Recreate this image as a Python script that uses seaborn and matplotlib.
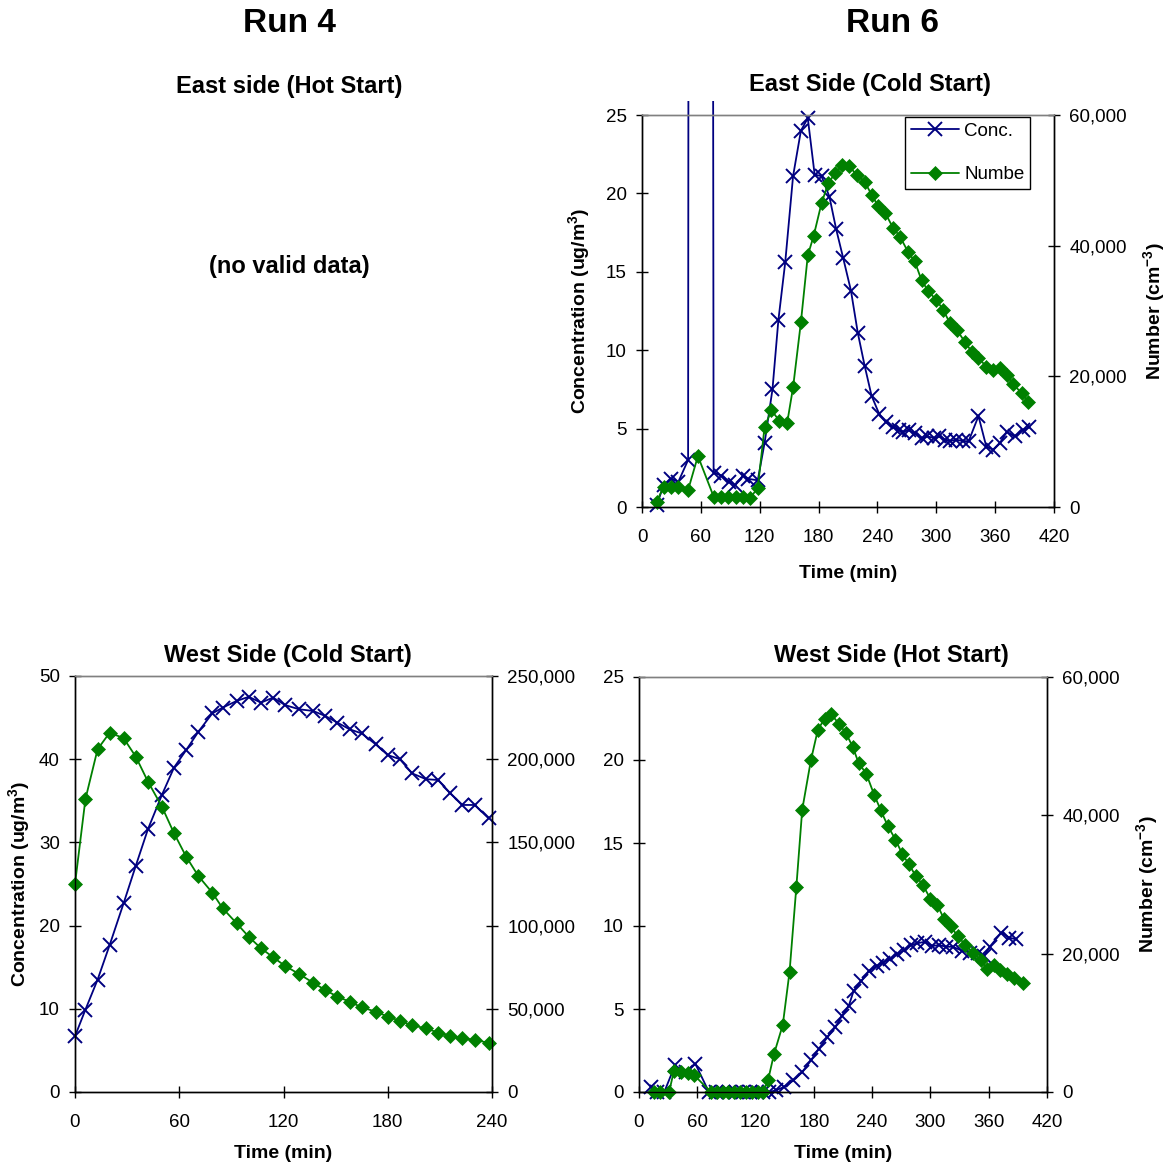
import numpy as np
import matplotlib
matplotlib.use("Agg")
import matplotlib.pyplot as plt
import seaborn as sns
from matplotlib.patches import Rectangle
from matplotlib.ticker import FuncFormatter

# ---------------- data ----------------
# Run 6, East Side (Cold Start)
t_ec_conc = [15, 22, 30, 37, 47, 57, 73, 81, 89, 95, 103, 108, 118, 125, 133, 139, 146, 154,
             162, 169, 176, 183, 191, 198, 205, 213, 220, 227, 234, 242, 249, 256, 262, 266,
             272, 278, 285, 291, 298, 303, 309, 314, 320, 327, 333, 343, 351, 358, 365, 372,
             380, 388, 395]
conc_ec = [0.1, 1.4, 1.8, 1.6, 3.0, 800, 2.2, 2.0, 1.6, 1.4, 2.0, 1.8, 1.7, 4.1, 7.5, 11.9,
           15.6, 21.1, 24.0, 24.8, 21.2, 21.1, 19.8, 17.7, 15.9, 13.8, 11.1, 9.0, 7.1, 5.9,
           5.4, 5.1, 4.9, 4.8, 4.9, 4.7, 4.4, 4.5, 4.4, 4.5, 4.3, 4.2, 4.3, 4.2, 4.2, 5.8,
           3.85, 3.65, 4.1, 4.8, 4.5, 4.9, 5.1]
t_ec_num = [15, 22, 30, 37, 47, 57, 73, 81, 88, 96, 103, 110, 118, 125, 132, 140, 148, 154,
            162, 169, 175, 183, 190, 197, 204, 211, 219, 227, 234, 241, 248, 256, 263, 271,
            278, 285, 292, 300, 307, 314, 321, 329, 336, 343, 351, 358, 365, 372, 378, 387, 394]
num_ec = [800, 3100, 3100, 3000, 2600, 7800, 1600, 1600, 1500, 1500, 1500, 1350, 2900, 12300,
          14800, 13200, 12900, 18300, 28300, 38500, 41500, 46500, 49600, 51100, 52300, 52200,
          50800, 49800, 47800, 46000, 45000, 42700, 41400, 39100, 37600, 34700, 33000, 31700,
          30200, 28100, 27100, 25300, 23800, 22800, 21500, 21000, 21200, 20200, 18900, 17400,
          16100]

# Run 4, West Side (Cold Start)
t_wc = [0, 6, 13, 20, 28, 35, 42, 50, 57, 64, 71, 79, 85, 93, 100, 107, 114, 121, 129, 137,
        144, 151, 158, 165, 173, 180, 187, 194, 202, 209, 216, 223, 230, 238]
conc_wc = [6.7, 9.9, 13.5, 17.7, 22.7, 27.2, 31.6, 35.7, 39.0, 41.1, 43.3, 45.5, 46.2, 47.0,
           47.5, 46.8, 47.4, 46.5, 46.0, 45.8, 45.2, 44.4, 43.6, 43.1, 41.8, 40.5, 40.0, 38.3,
           37.6, 37.5, 35.9, 34.5, 34.5, 32.9]
num_wc = [125000, 176000, 206000, 216000, 212600, 201500, 186500, 171500, 155500, 141400,
          129800, 119800, 110400, 101400, 93300, 86400, 81000, 75700, 70900, 65700, 61300,
          57300, 54300, 50900, 48300, 45300, 42800, 40000, 38300, 35600, 33700, 32300, 31300,
          29600]

# Run 6, West Side (Hot Start)
t_wh_conc = [12, 19, 26, 37, 48, 58, 72, 79, 86, 93, 100, 107, 114, 121, 128, 134, 141, 149,
             159, 168, 177, 185, 194, 202, 209, 216, 221, 229, 237, 245, 251, 258, 266, 273,
             280, 286, 294, 302, 309, 316, 323, 333, 341, 349, 355, 361, 373, 381, 388]
conc_wh = [0.3, 0.0, 0.0, 1.6, 1.2, 1.7, 0.0, 0.0, 0.0, 0.0, 0.0, 0.0, 0.0, 0.0, 0.0, 0.0,
           0.1, 0.3, 0.7, 1.2, 1.9, 2.6, 3.3, 3.9, 4.6, 5.2, 6.1, 6.7, 7.3, 7.6, 7.8, 8.0,
           8.3, 8.55, 8.85, 8.95, 9.05, 8.8, 8.85, 8.75, 8.75, 8.5, 8.4, 8.35, 8.2, 8.75,
           9.6, 9.3, 9.2]
t_wh_num = [15, 22, 31, 36, 43, 50, 57, 74, 80, 86, 92, 98, 104, 110, 116, 122, 128, 133, 139,
            148, 155, 162, 168, 177, 184, 191, 198, 206, 213, 220, 226, 234, 242, 249, 256,
            264, 271, 278, 285, 292, 300, 307, 314, 321, 328, 336, 344, 352, 358, 365, 372,
            379, 386, 395]
num_wh = [0, 0, 0, 3100, 2900, 2800, 2400, 0, 0, 0, 0, 0, 0, 0, 0, 0, 0, 1800, 5500, 9700,
          17400, 29700, 40800, 48000, 52300, 54000, 54600, 53200, 51900, 49900, 47600, 46000,
          43000, 40700, 38500, 36500, 34400, 32900, 31200, 30000, 27900, 27100, 25000, 24000,
          22500, 21300, 20100, 19100, 17800, 18300, 17700, 17000, 16500, 15800]

legend_labels = ["Conc.", "Numbe"]

# ---------------- style ----------------
sns.set_theme(style="white")
plt.rcParams["font.family"] = ["Liberation Sans", "DejaVu Sans"]
plt.rcParams["mathtext.fontset"] = "custom"
plt.rcParams["mathtext.rm"] = "Liberation Sans"
plt.rcParams["mathtext.bf"] = "Liberation Sans:bold"
plt.rcParams["text.color"] = "black"
plt.rcParams["axes.labelcolor"] = "black"
plt.rcParams["xtick.color"] = "black"
plt.rcParams["ytick.color"] = "black"

BLUE = "#000080"
GREEN = "#008000"
FS_TICK = 13.5
FS_LAB = 14
FS_SUB = 17
FS_RUN = 24

W, H = 1170, 1168
fig = plt.figure(figsize=(W / 100, H / 100), dpi=100)


def px_axes(l, t, r, b):
    return fig.add_axes([l / W, 1 - b / H, (r - l) / W, (b - t) / H])


def draw(ax, ax2, tc, c, tn, n):
    sns.lineplot(x=tc, y=c, ax=ax, color=BLUE, marker="x", markersize=10,
                 markeredgewidth=1.4, markeredgecolor=BLUE, linewidth=1.3,
                 estimator=None, sort=False, legend=False)
    sns.lineplot(x=tn, y=n, ax=ax2, color=GREEN, marker="D", markersize=7,
                 markeredgewidth=0.5, markeredgecolor=GREEN, markerfacecolor=GREEN,
                 linewidth=1.3, estimator=None, sort=False, legend=False)
    for a in (ax, ax2):
        for ln in a.lines:
            clip = Rectangle((-0.03, -0.03), 1.06, 1.065, transform=ax.transAxes)
            ln.set_clip_path(clip)


def style(ax, ax2, xmax, ymax, ystep, y2max, y2step):
    ax.set_xlim(0, xmax)
    ax.set_ylim(0, ymax)
    ax2.set_ylim(0, y2max)
    ax.set_xticks(np.arange(0, xmax + 1, 60))
    ax.set_yticks(np.arange(0, ymax + 0.01, ystep))
    ax2.set_yticks(np.arange(0, y2max + 1, y2step))
    ax2.yaxis.set_major_formatter(FuncFormatter(lambda v, p: f"{int(round(v)):,}"))
    ax.yaxis.set_major_formatter(FuncFormatter(lambda v, p: f"{int(round(v))}"))
    for a in (ax, ax2):
        for s in ["left", "right", "bottom"]:
            a.spines[s].set_color("black")
            a.spines[s].set_linewidth(1.0)
        a.spines["top"].set_color("#808080")
        a.spines["top"].set_linewidth(1.0)
        a.grid(False)
    ax.tick_params(axis="both", direction="inout", length=8, width=1, color="black",
                   labelsize=FS_TICK, labelcolor="black", bottom=True, left=True)
    ax.tick_params(axis="x", pad=12)
    ax.tick_params(axis="y", pad=7)
    ax2.tick_params(axis="y", direction="inout", length=8, width=1, color="black",
                    labelsize=FS_TICK, labelcolor="black", right=True, pad=7)
    ax.set_xlabel("")
    ax.set_ylabel("")
    ax2.set_ylabel("")


CONC_LABEL = r"Concentration (ug/m$^{\mathbf{3}}$)"
NUM_LABEL = r"Number (cm$^{\mathbf{-3}}$)"
LAB_KW = dict(fontsize=FS_LAB, fontweight="bold", color="black")

# ---- top-right: Run 6 East Side (Cold Start)
ax_tr = px_axes(642, 115, 1054, 507)
ax_tr2 = ax_tr.twinx()
draw(ax_tr, ax_tr2, t_ec_conc, conc_ec, t_ec_num, num_ec)
style(ax_tr, ax_tr2, 420, 25, 5, 60000, 20000)
ax_tr.set_ylabel(CONC_LABEL, va="center", ha="center", **LAB_KW)
ax_tr.yaxis.set_label_coords((580 - 642) / 412, 0.5)
ax_tr2.set_ylabel(NUM_LABEL, va="center", ha="center", **LAB_KW)
ax_tr2.yaxis.set_label_coords((1155 - 642) / 412, 0.5)
ax_tr.set_xlabel("Time (min)", va="center", **LAB_KW)
ax_tr.xaxis.set_label_coords(0.5, (507 - 573) / 392)
leg = ax_tr2.legend([ax_tr.lines[0], ax_tr2.lines[0]], legend_labels,
                    loc="upper left", bbox_to_anchor=((905 - 642) / 412, (507 - 117) / 392),
                    borderaxespad=0, frameon=True, fancybox=False, shadow=False,
                    framealpha=1, edgecolor="black", fontsize=FS_TICK, handlelength=2.6,
                    handletextpad=0.25, labelspacing=1.4, borderpad=0.3, numpoints=1)
leg.get_frame().set_linewidth(1.0)
for txt in leg.get_texts():
    txt.set_color("black")

# ---- bottom-left: Run 4 West Side (Cold Start)
ax_bl = px_axes(75, 676, 492, 1092)
ax_bl2 = ax_bl.twinx()
draw(ax_bl, ax_bl2, t_wc, conc_wc, t_wc, num_wc)
style(ax_bl, ax_bl2, 240, 50, 10, 250000, 50000)
ax_bl.set_ylabel(CONC_LABEL, va="center", ha="center", **LAB_KW)
ax_bl.yaxis.set_label_coords((20 - 75) / 417, 0.5)
ax_bl.set_xlabel("Time (min)", va="center", **LAB_KW)
ax_bl.xaxis.set_label_coords(0.5, (1092 - 1153) / 416)

# ---- bottom-right: Run 6 West Side (Hot Start)
ax_br = px_axes(639, 677, 1047, 1092)
ax_br2 = ax_br.twinx()
draw(ax_br, ax_br2, t_wh_conc, conc_wh, t_wh_num, num_wh)
style(ax_br, ax_br2, 420, 25, 5, 60000, 20000)
ax_br2.set_ylabel(NUM_LABEL, va="center", ha="center", **LAB_KW)
ax_br2.yaxis.set_label_coords((1148 - 639) / 408, 0.5)
ax_br.set_xlabel("Time (min)", va="center", **LAB_KW)
ax_br.xaxis.set_label_coords(0.5, (1092 - 1153) / 415)

# ---- titles and texts
def ftext(x, y, s, size, **kw):
    fig.text(x / W, 1 - y / H, s, ha="center", va="baseline", fontsize=size,
             fontweight="bold", color="black", **kw)

ftext(289, 32, "Run 4", FS_RUN)
ftext(892, 32, "Run 6", FS_RUN)
ftext(289, 93, "East side (Hot Start)", FS_SUB)
ftext(289, 273, "(no valid data)", FS_SUB)
ftext(870, 91, "East Side (Cold Start)", FS_SUB)
ftext(288, 662, "West Side (Cold Start)", FS_SUB)
ftext(891, 662, "West Side (Hot Start)", FS_SUB)

fig.savefig("out.png", dpi=100, facecolor="white")
